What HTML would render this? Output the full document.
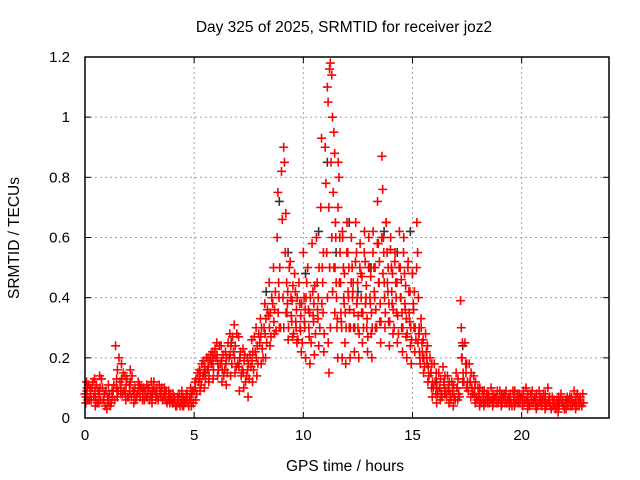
<!DOCTYPE html>
<html><head><meta charset="utf-8"><style>
body{margin:0;background:#fff}
svg{display:block;font-family:"Liberation Sans",sans-serif}
</style></head><body>
<svg id="c" width="640" height="480">
<text x="344" y="32" text-anchor="middle" font-size="15.5">Day 325 of 2025, SRMTID for receiver joz2</text>
<text x="345" y="471" text-anchor="middle" font-size="15.5">GPS time / hours</text>
<text transform="translate(19,238) rotate(-90)" text-anchor="middle" font-size="15.5">SRMTID / TECUs</text>
<g id="grid"></g><g id="pts"></g><g id="axes"></g>
</svg>
<script>
const xTicks=[0,5,10,15,20];
const yTicks=[0,0.2,0.4,0.6,0.8,1,1.2];
const yTickLabels=["0","0.2","0.4","0.6","0.8","1","1.2"];
const hours=[0,0.2,0.4,0.6,0.8,1,1.2,1.4,1.6,1.8,2,2.2,2.4,2.6,2.8,3,3.2,3.4,3.6,3.8,4,4.2,4.4,4.6,4.8,5,5.2,5.4,5.6,5.8,6,6.2,6.4,6.6,6.8,7,7.2,7.4,7.6,7.8,8,8.2,8.4,8.6,8.8,9,9.1,9.2,9.4,9.6,9.8,10,10.2,10.4,10.6,10.8,11,11.1,11.2,11.3,11.4,11.6,11.8,12,12.2,12.4,12.6,12.8,13,13.2,13.4,13.6,13.8,14,14.2,14.4,14.6,14.8,15,15.2,15.4,15.6,15.8,16,16.2,16.4,16.6,16.8,17,17.2,17.4,17.6,17.8,18,18.2,18.4,18.6,18.8,19,19.2,19.4,19.6,19.8,20,20.2,20.4,20.6,20.8,21,21.2,21.4,21.6,21.8,22,22.2,22.4,22.6,22.8];
const values=[[.08,.05,.12],[.06,.1],[.07,.13,.04],[.09,.05,.14],[.1,.06],[.03,.07,.11],[.05,.09],[.24,.1,.07],[.12,.08,.18],[.09,.14,.06],[.07,.11,.16],[.09,.05],[.08,.12],[.1,.06],[.07,.11],[.08,.12,.05],[.09,.06],[.11,.08],[.07,.1],[.06,.09],[.05,.08],[.04,.07],[.06,.09,.04],[.05,.08],[.07,.1,.04],[.09,.12,.06],[.12,.16,.09],[.14,.19,.1],[.16,.2,.12],[.18,.22,.13],[.2,.25,.14],[.18,.24,.12],[.16,.22,.11],[.2,.28,.14],[.22,.31,.15],[.18,.27,.09],[.16,.23,.1],[.14,.2,.07],[.17,.26,.12],[.22,.3,.14],[.25,.33,.18],[.3,.38,.2],[.34,.45,.24],[.38,.5,.28],[.6,.75,.45,.3],[.82,.66,.4,.3],[.9,.85,.55,.35],[.68,.45,.38,.26],[.52,.4,.32,.27],[.48,.42,.3,.25],[.45,.38,.29,.22],[.55,.4,.3,.2],[.5,.36,.27,.18],[.58,.42,.32,.21],[.6,.45,.33,.24],[.7,.93,.5,.35,.22],[.9,.78,.55,.4,.25,.15],[1.1,1.05,.7,.5,.3],[1.16,1.18,.85,.6,.42],[1.14,1.0,.75,.5,.35],[.95,.88,.65,.45,.3,.2],[.85,.8,.6,.45,.32,.2],[.6,.5,.38,.25,.18],[.65,.55,.4,.3,.2],[.6,.5,.42,.3,.22],[.65,.55,.4,.3,.2],[.58,.48,.35,.25],[.62,.52,.4,.3,.22],[.6,.5,.38,.28,.2],[.62,.5,.4,.3],[.72,.58,.45,.32,.25],[.87,.76,.6,.45,.3],[.65,.55,.42,.32,.24],[.6,.5,.38,.28],[.55,.45,.35,.25],[.62,.5,.4,.3,.22],[.6,.48,.36,.27,.2],[.52,.42,.32,.24,.18],[.48,.38,.3,.22],[.65,.55,.4,.3,.2],[.3,.25,.2,.15],[.28,.22,.18,.12],[.2,.15,.1,.07],[.18,.12,.08,.05],[.15,.1,.06],[.17,.12,.08],[.14,.09,.05],[.12,.08,.04],[.15,.1,.06],[.39,.3,.2,.12],[.25,.18,.1],[.18,.12,.07],[.14,.08,.05],[.1,.07,.04],[.09,.06,.04],[.08,.05],[.1,.06,.04],[.07,.05],[.09,.06,.04],[.08,.05],[.07,.04],[.09,.06,.04],[.08,.05],[.07,.04],[.1,.06,.03],[.08,.05],[.07,.04,.03],[.09,.06],[.08,.05,.03],[.1,.06],[.07,.04],[.06,.04,.02],[.08,.05],[.06,.03],[.07,.04],[.09,.05,.03],[.06,.04],[.08,.05]];
const hoursB=[0.1,0.3,0.5,0.7,0.9,1.1,1.3,1.5,1.7,1.9,2.1,2.3,2.5,2.7,2.9,3.1,3.3,3.5,3.7,3.9,4.1,4.3,4.5,4.7,4.9,5.1,5.3,5.5,5.7,5.9,6.1,6.3,6.5,6.7,6.9,7.1,7.3,7.5,7.7,7.9,8.1,8.3,8.5,8.7,8.9,9.3,9.5,9.7,9.9,10.1,10.3,10.5,10.7,10.9,11.5,11.7,11.9,12.1,12.3,12.5,12.7,12.9,13.1,13.3,13.5,13.7,13.9,14.1,14.3,14.5,14.7,14.9,15.1,15.3,15.5,15.7,15.9,16.1,16.3,16.5,16.7,16.9,17.1,17.3,17.5,17.7,17.9,18.1,18.3,18.5,18.7,18.9,19.1,19.3,19.5,19.7,19.9,20.1,20.3,20.5,20.7,20.9,21.1,21.3,21.5,21.7,21.9,22.1,22.3,22.5,22.7];
const valuesB=[[.07,.09,.06,.11],[.08,.06,.1,.12],[.09,.07,.11,.05],[.08,.1,.06,.13],[.06,.08,.04,.09],[.05,.06,.08,.04],[.07,.09,.11,.06],[.13,.16,.09,.2],[.1,.13,.08,.15],[.08,.11,.13,.07],[.09,.12,.07,.14],[.08,.1,.06,.07],[.09,.11,.07,.1],[.08,.1,.06,.09],[.07,.09,.1,.06],[.07,.09,.1,.12],[.08,.1,.07,.06],[.09,.07,.1,.06],[.08,.06,.09,.05],[.07,.05,.08,.06],[.05,.07,.06,.04],[.06,.05,.08,.04],[.05,.07,.04,.06],[.06,.08,.05,.04],[.06,.08,.09,.05],[.1,.13,.08,.15],[.13,.15,.11,.18],[.15,.17,.13,.2],[.17,.14,.19,.21],[.19,.16,.21,.23],[.21,.18,.16,.24],[.19,.16,.21,.14],[.18,.2,.15,.25],[.21,.24,.18,.27],[.2,.24,.17,.28],[.17,.2,.22,.14],[.15,.19,.21,.12],[.16,.18,.13,.21],[.19,.22,.16,.27],[.2,.24,.18,.28],[.27,.3,.23,.2],[.28,.33,.25,.36],[.3,.35,.27,.4],[.32,.36,.42,.29],[.35,.4,.5,.3],[.35,.42,.3,.5],[.34,.39,.44,.28],[.32,.36,.4,.26],[.3,.34,.38,.25],[.32,.36,.4,.45],[.3,.35,.4,.25],[.34,.38,.44,.28],[.36,.4,.5,.3],[.38,.45,.55,.28],[.5,.6,.4,.33,.7],[.45,.55,.35,.3,.62],[.4,.48,.35,.3,.55],[.42,.5,.36,.3,.45],[.4,.45,.35,.3,.52],[.38,.45,.34,.28,.5],[.4,.47,.35,.3,.55],[.38,.44,.33,.27,.5],[.4,.47,.35,.3,.55],[.42,.5,.36,.3,.58],[.45,.52,.38,.32,.6],[.48,.55,.4,.35,.65],[.45,.5,.38,.32,.56],[.42,.48,.36,.3,.52],[.4,.45,.34,.28,.5],[.4,.46,.35,.3,.55],[.38,.44,.33,.28,.5],[.35,.42,.3,.26,.48],[.36,.42,.3,.26,.5],[.25,.28,.22,.18,.33],[.22,.26,.2,.17],[.2,.24,.17,.14],[.15,.18,.12,.1],[.12,.15,.1,.08],[.1,.13,.08,.07],[.11,.14,.09,.07],[.1,.12,.08,.06],[.09,.11,.07,.06],[.1,.13,.08,.07],[.2,.25,.15,.12],[.15,.18,.12,.09],[.12,.15,.1,.08],[.1,.12,.07,.06],[.08,.1,.06,.05],[.07,.09,.05,.06],[.07,.08,.05,.06],[.06,.08,.05,.07],[.07,.09,.05,.06],[.06,.08,.05,.07],[.07,.09,.05,.06],[.06,.08,.05,.04],[.07,.09,.05,.06],[.06,.08,.05,.07],[.07,.09,.05,.06],[.06,.08,.05,.04],[.07,.09,.05,.06],[.06,.08,.04,.05],[.05,.07,.04,.06],[.06,.08,.04,.05],[.05,.07,.04,.03],[.05,.06,.04,.03],[.05,.07,.04,.06],[.05,.06,.04,.03],[.05,.07,.04,.06],[.06,.07,.04,.05],[.05,.07,.04,.08],[.06,.07,.05,.04]];
const blackHours=[0.1,1.5,3.1,5.5,6.7,7.1,8.3,8.9,9.3,10.1,10.7,11.1,11.5,12.1,12.5,13.1,13.7,14.3,14.9,15.3,16.1,17.3,19.1,21.1,22.1];
const blackValues=[.1,.09,.08,.15,.25,.2,.42,.72,.55,.48,.62,.85,.55,.65,.42,.5,.62,.55,.62,.28,.12,.24,.07,.05,.06];
const L=85,R=609,T=57,B=418,X0=0,X1=24,Y0=0,Y1=1.2;
const sx=v=>L+(v-X0)/(X1-X0)*(R-L);
const sy=v=>B-(v-Y0)/(Y1-Y0)*(B-T);
const NS="http://www.w3.org/2000/svg";
function mk(tag,attrs,parent){const e=document.createElementNS(NS,tag);for(const k in attrs)e.setAttribute(k,attrs[k]);parent.appendChild(e);return e;}
const grid=document.getElementById('grid'),axes=document.getElementById('axes'),pts=document.getElementById('pts');
xTicks.forEach(t=>{
 const x=sx(t);
 if(t>X0){const g=mk('line',{x1:x,x2:x,y1:T,y2:B,stroke:'#a0a0a0','stroke-dasharray':'2,3'},grid);
 
 }
 mk('line',{x1:x,x2:x,y1:B,y2:B-6,stroke:'#000'},axes);
 mk('line',{x1:x,x2:x,y1:T,y2:T+6,stroke:'#000'},axes);
 const lb=mk('text',{x:x,y:B+22,'text-anchor':'middle','font-size':15},axes);lb.textContent=t;
 
 
});
yTicks.forEach((t,i)=>{
 const y=sy(t);
 if(t>Y0&&t<Y1){const g=mk('line',{x1:L,x2:R,y1:y,y2:y,stroke:'#a0a0a0','stroke-dasharray':'2,3'},grid);
 
 }
 mk('line',{x1:L,x2:L+6,y1:y,y2:y,stroke:'#000'},axes);
 mk('line',{x1:R,x2:R-6,y1:y,y2:y,stroke:'#000'},axes);
 const lb=mk('text',{x:L-15,y:y+5,'text-anchor':'end','font-size':15},axes);lb.textContent=yTickLabels[i];
 
 
});
const fr=mk('rect',{x:L,y:T,width:R-L,height:B-T,fill:'none',stroke:'#000','stroke-width':1.5},axes);


function cross(t,v,col,name){
 const x=sx(t),y=sy(v);
 const p=mk('path',{d:`M${x-4.5} ${y}h9M${x} ${y-4.5}v9`,stroke:col,'stroke-width':1.6,fill:'none'},pts);
 
 
}
blackHours.forEach((t,i)=>cross(t,blackValues[i],'#333','black-point'));
hours.forEach((t,i)=>values[i].forEach((v,j)=>{
 cross(t+j*0.035,v,'#ff0000','red-point');
}));
hoursB.forEach((t,i)=>valuesB[i].forEach((v,j)=>{
 cross(t+j*0.035-0.05,v,'#ff0000','red-point');
}));
</script>
</body></html>
